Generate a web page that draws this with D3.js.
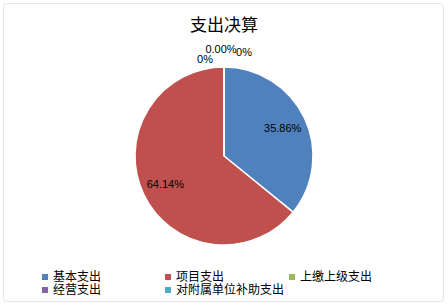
<!DOCTYPE html>
<html>
<head>
<meta charset="utf-8">
<script src="https://cdn.jsdelivr.net/npm/d3@7/dist/d3.min.js"></script>
<style>
  body { margin: 0; background: #fff; }
  text { font-family: "Liberation Sans", "Noto Sans CJK SC", sans-serif; }
</style>
</head>
<body>
<svg id="chart" width="448" height="307"></svg>
<script>
// data
var categories = ["基本支出", "项目支出", "上缴上级支出", "经营支出", "对附属单位补助支出"];
var values = [35.86, 64.14, 0, 0, 0];
var labels = ["35.86%", "64.14%", "0%", "0.00%", "0%"];
var colors = ["#4F81BD", "#C0504D", "#9BBB59", "#8064A2", "#4BACC6"];

var W = 448, H = 307;
var svg = d3.select("#chart");

// frame
svg.append("rect")
  .attr("x", 3.5).attr("y", 3.5)
  .attr("width", 440).attr("height", 298)
  .attr("rx", 3)
  .attr("fill", "#fff")
  .attr("stroke", "#e6e6e6");

svg.append("text")
  .attr("x", 224).attr("y", 31)
  .attr("text-anchor", "middle")
  .attr("font-size", 17)
  .attr("font-family", "Noto Sans CJK SC")
  .text("支出决算");

var cx = 224, cy = 156, r = 89;
var pie = d3.pie().sort(null).value(function (d) { return d; });
var arcs = pie(values);
var arc = d3.arc().innerRadius(0).outerRadius(r);
var labelArc = d3.arc().innerRadius(r * 0.73).outerRadius(r * 0.73);
var outerArc = d3.arc().innerRadius(r + 8).outerRadius(r + 8);

var g = svg.append("g").attr("transform", "translate(" + cx + "," + cy + ")");

g.selectAll("path")
  .data(arcs)
  .join("path")
  .attr("d", arc)
  .attr("fill", function (d, i) { return colors[i]; })
  .attr("stroke", "#fff")
  .attr("stroke-width", 1.5);

// nudges for labels of empty slices so they don't overlap
var nudge = [[0, 0], [0, 0], [-19, 0], [-3, -10], [20, -7]];

g.selectAll(".lbl")
  .data(arcs)
  .join("text")
  .attr("class", "lbl")
  .attr("font-size", 11)
  .attr("text-anchor", "middle")
  .attr("dominant-baseline", "central")
  .attr("transform", function (d, i) {
    var c = d.value > 0 ? labelArc.centroid(d) : outerArc.centroid(d);
    return "translate(" + (c[0] + nudge[i][0]) + "," + (c[1] + nudge[i][1]) + ")";
  })
  .text(function (d, i) { return labels[i]; });

// legend
var colX = d3.scaleOrdinal().domain([0, 1, 2]).range([42, 165, 289]);
var rowY = d3.scaleOrdinal().domain([0, 1]).range([277, 290]);

var leg = svg.selectAll(".leg")
  .data(categories)
  .join("g")
  .attr("class", "leg")
  .attr("transform", function (d, i) {
    return "translate(" + colX(i % 3) + "," + rowY(Math.floor(i / 3)) + ")";
  });

leg.append("rect")
  .attr("x", 0).attr("y", -3)
  .attr("width", 6).attr("height", 6)
  .attr("fill", function (d, i) { return colors[i]; });

leg.append("text")
  .attr("x", 11).attr("y", 0)
  .attr("dominant-baseline", "central")
  .attr("font-size", 12)
  .attr("font-family", "Noto Sans CJK SC")
  .text(function (d) { return d; });
</script>
</body>
</html>
